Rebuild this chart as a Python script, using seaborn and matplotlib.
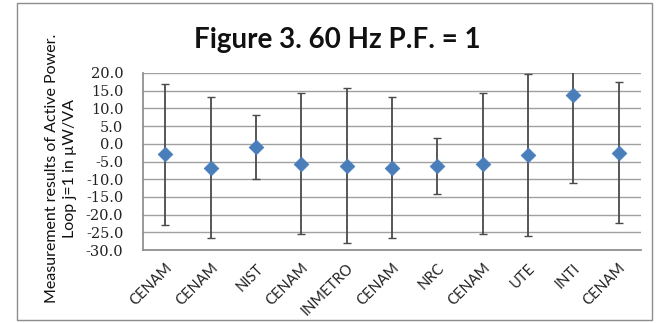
import matplotlib
matplotlib.use("Agg")
import matplotlib.pyplot as plt
import seaborn as sns
import pandas as pd
from matplotlib.patches import Rectangle

# data
labs = ["CENAM", "CENAM", "NIST", "CENAM", "INMETRO", "CENAM",
        "NRC", "CENAM", "UTE", "INTI", "CENAM"]
vals = [-3.0, -6.7, -0.9, -5.6, -6.2, -6.8, -6.3, -5.6, -3.2, 13.8, -2.5]
unc = [20.0, 19.9, 9.0, 19.9, 21.9, 19.9, 8.0, 19.9, 22.9, 24.8, 20.0]

df = pd.DataFrame({"pos": range(len(labs)), "lab": labs, "val": vals, "unc": unc})

sns.set_theme(style="white")
fig = plt.figure(figsize=(6.61, 3.23), dpi=100)
ax = fig.add_axes([0.216, 0.226, 0.754, 0.548])

ax.errorbar(df["pos"], df["val"], yerr=df["unc"], fmt="none",
            ecolor="#4a4a4a", elinewidth=1.3, capsize=3, capthick=1.0, zorder=2)
sns.scatterplot(data=df, x="pos", y="val", marker="D", s=55,
                color="#4a7ebb", edgecolor="#4a7ebb", ax=ax, zorder=3)

ax.set_xlim(-0.5, len(labs) - 0.5)
ax.set_ylim(-30, 20)
ax.set_yticks([20 - 5 * i for i in range(11)])
ax.set_yticklabels([f"{20 - 5 * i:.1f}" for i in range(11)],
                   family="DejaVu Serif", fontsize=10.5, color="#222222")
ax.set_xticks(df["pos"])
ax.set_xticklabels(labs, rotation=45, ha="right", rotation_mode="anchor",
                   fontsize=10.5, family="Lato", color="#222222")
ax.tick_params(axis="x", length=0, pad=8)
ax.tick_params(axis="y", length=0, pad=14)
ax.yaxis.grid(True, color="#a0a0a0", linewidth=1.0)
ax.set_axisbelow(True)
for s in ["top", "right"]:
    ax.spines[s].set_visible(False)
ax.spines["left"].set_color("#8c8c8c")
ax.spines["bottom"].set_color("#8c8c8c")
ax.set_xlabel("")
ax.set_ylabel("")

fig.text(61 / 661, 1 - 168 / 323,
         "Measurement results of Active Power.\nLoop j=1 in \u00b5W/VA",
         rotation=90, ha="center", va="center", multialignment="center",
         fontsize=11.5, family="Lato", linespacing=1.45, color="#111111")

fig.text(0.51, 1 - 40 / 323, "Figure 3. 60 Hz P.F. = 1", ha="center", va="center",
         fontsize=20, fontweight="bold", family="Lato", color="#111111")

fig.patches.append(Rectangle((17 / 661, 3 / 323), 635 / 661, 317 / 323,
                             transform=fig.transFigure, fill=False,
                             edgecolor="#8c8c8c", linewidth=1.0))

fig.savefig("out.png", dpi=100)
